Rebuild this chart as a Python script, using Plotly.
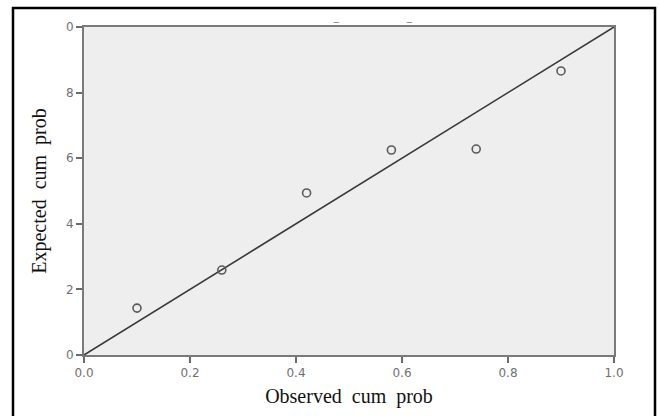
import plotly.graph_objects as go

observed = [0.10, 0.26, 0.42, 0.58, 0.74, 0.90]
expected = [0.143, 0.259, 0.494, 0.625, 0.628, 0.866]
ref_line = [0.0, 1.0]
x_ticks = [0.0, 0.2, 0.4, 0.6, 0.8, 1.0]
x_tick_text = ["0.0", "0.2", "0.4", "0.6", "0.8", "1.0"]
y_ticks = [0.0, 0.2, 0.4, 0.6, 0.8, 1.0]
y_tick_text = ["0", "2", "4", "6", "8", "0"]
top_marks_x = [0.477, 0.615]

fig = go.Figure()
fig.add_trace(go.Scatter(x=ref_line, y=ref_line, mode="lines",
                         line=dict(color="#3a3a3a", width=1.6), hoverinfo="skip"))
fig.add_trace(go.Scatter(x=observed, y=expected, mode="markers",
                         marker=dict(symbol="circle-open", size=8,
                                     line=dict(color="#5a5a5a", width=1.6),
                                     color="#5a5a5a")))

for mx in top_marks_x:
    fig.add_annotation(x=mx, xref="x", y=1, yref="paper", yanchor="bottom", yshift=-4,
                       text="\u2013", showarrow=False,
                       font=dict(family="DejaVu Sans", size=13, color="#888888"))

axis_common = dict(showgrid=False, zeroline=False, showline=True, mirror=True,
                   linecolor="#7a7a7a", linewidth=2, ticks="outside", ticklen=6,
                   tickcolor="#6a6a6a", tickwidth=1.5,
                   tickfont=dict(family="DejaVu Sans", size=12, color="#707070"))

sp = "\u00a0"
fig.update_xaxes(range=[0, 1], tickvals=x_ticks, ticktext=x_tick_text,
                 title=dict(text=f"Observed{sp}{sp}cum{sp}{sp}prob", standoff=10,
                            font=dict(family="Liberation Serif", size=20, color="#111111")),
                 **axis_common)
fig.update_yaxes(range=[0, 1], tickvals=y_ticks, ticktext=y_tick_text,
                 title=dict(text=f"Expected{sp}{sp}cum{sp}{sp}prob", standoff=14,
                            font=dict(family="Liberation Serif", size=20, color="#111111")),
                 **axis_common)

fig.add_shape(type="rect", xref="paper", yref="paper",
              x0=-71 / 530, x1=(655 - 84) / 530, y0=-80 / 328, y1=(355 - 8) / 328,
              line=dict(color="black", width=2.5), fillcolor="rgba(0,0,0,0)", layer="above")

fig.update_layout(width=659, height=416, showlegend=False,
                  margin=dict(l=84, r=45, t=27, b=61),
                  plot_bgcolor="#eeeeee", paper_bgcolor="white")

fig.write_html("out.html")
